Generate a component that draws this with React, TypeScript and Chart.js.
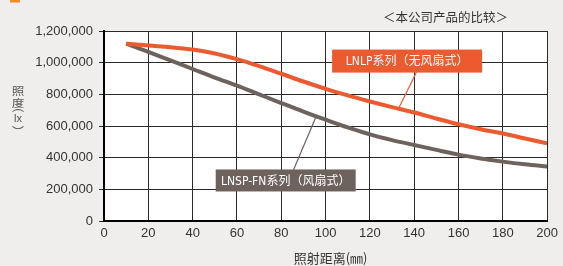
import React, { useEffect, useRef } from "react";
import { Chart, registerables } from "chart.js";

Chart.register(...registerables);

const distances = [10, 20, 30, 40, 50, 60, 70, 80, 90, 100, 110, 120, 130, 140, 150, 160, 170, 180, 190, 200];
const lnlpValues = [1120000, 1108000, 1097000, 1083000, 1058000, 1022000, 978000, 930000, 881000, 835000, 793000, 755000, 719000, 685000, 647000, 611000, 580000, 553000, 521000, 490000];
const lnspValues = [1120000, 1068000, 1014000, 960000, 906000, 855000, 800000, 745000, 691000, 640000, 591000, 547000, 511000, 480000, 449000, 419000, 395000, 375000, 358000, 344000];

const lnlpLabel = "LNLP系列（无风扇式）";
const lnspLabel = "LNSP-FN系列（风扇式）";
const xTitle = "照射距离(㎜)";
const yTitleChars = ["照", "度", "︵", "lx", "︶"];
const noteText = "＜本公司产品的比较＞";

const ORANGE = "#ec5a2f";
const GRAY = "#6d625c";
const TEXT = "#333333";

const annotations = [
  { text: lnlpLabel, cx: 136.8, cy: 1010000, w: 150, h: 23, bg: ORANGE, sx: 141, sy: 940000, tx: 133, ty: 712000 },
  { text: lnspLabel, cx: 82, cy: 256000, w: 140, h: 22, bg: GRAY, sx: 85.5, sy: 322000, tx: 95.5, ty: 652000 },
];

const decorPlugin = {
  id: "decor",
  beforeDraw(chart: any) {
    const { ctx, chartArea } = chart;
    ctx.save();
    ctx.fillStyle = "#efeeec";
    ctx.fillRect(0, 0, chart.width, chart.height);
    ctx.fillStyle = "#ffffff";
    ctx.fillRect(chartArea.left, chartArea.top, chartArea.right - chartArea.left, chartArea.bottom - chartArea.top);
    // cut-off header marker
    ctx.fillStyle = "#f08a24";
    ctx.fillRect(10, 0, 10, 2.5);
    ctx.restore();
  },
  afterDatasetsDraw(chart: any) {
    const { ctx, scales, chartArea } = chart;
    const xs = scales.x;
    const ys = scales.y;
    ctx.save();
    for (const a of annotations) {
      ctx.strokeStyle = a.bg;
      ctx.lineWidth = 1.2;
      ctx.beginPath();
      ctx.moveTo(xs.getPixelForValue(a.sx), ys.getPixelForValue(a.sy));
      ctx.lineTo(xs.getPixelForValue(a.tx), ys.getPixelForValue(a.ty));
      ctx.stroke();
      const cx = xs.getPixelForValue(a.cx);
      const cy = ys.getPixelForValue(a.cy);
      ctx.fillStyle = a.bg;
      ctx.fillRect(cx - a.w / 2, cy - a.h / 2, a.w, a.h);
      ctx.fillStyle = "#ffffff";
      ctx.font = '12px "Liberation Sans Narrow", "DejaVu Sans Condensed", "Noto Sans CJK SC", sans-serif';
      ctx.textAlign = "center";
      ctx.textBaseline = "middle";
      ctx.fillText(a.text, cx, cy + 1);
    }
    // note top-right
    ctx.fillStyle = TEXT;
    ctx.font = '12.5px "Noto Sans CJK SC", sans-serif';
    ctx.textAlign = "right";
    ctx.textBaseline = "middle";
    ctx.fillText(noteText, 508, 17);
    // x title
    ctx.textAlign = "center";
    ctx.font = '13px "Noto Sans CJK SC", sans-serif';
    ctx.fillText(xTitle, (chartArea.left + chartArea.right) / 2 + 5, 258);
    // y title (vertical, stacked)
    ctx.fillStyle = "#555555";
    const ys1 = [91.5, 103, 106, 118.5, 132];
    yTitleChars.forEach((c, i) => {
      ctx.font = c === "lx"
        ? '11px "Liberation Sans", sans-serif'
        : i < 2 ? '11px "Noto Sans CJK SC", sans-serif' : '12px "Noto Sans CJK SC", sans-serif';
      ctx.save();
      ctx.translate(18, ys1[i]);
      if (i < 2) ctx.scale(1.15, 0.95);
      ctx.fillText(c, 0, 0);
      ctx.restore();
    });
    ctx.restore();
  },
};

export default function App() {
  const ref = useRef<HTMLCanvasElement>(null);
  useEffect(() => {
    const canvas = ref.current!;
    const chart = new Chart(canvas, {
      type: "line",
      data: {
        datasets: [
          {
            label: lnlpLabel,
            data: distances.map((d, i) => ({ x: d, y: lnlpValues[i] })),
            borderColor: ORANGE,
            borderWidth: 4,
            pointRadius: 0,
            cubicInterpolationMode: "monotone",
          },
          {
            label: lnspLabel,
            data: distances.map((d, i) => ({ x: d, y: lnspValues[i] })),
            borderColor: GRAY,
            borderWidth: 4,
            pointRadius: 0,
            cubicInterpolationMode: "monotone",
          },
        ],
      },
      options: {
        animation: false,
        responsive: false,
        devicePixelRatio: 1,
        layout: { padding: { top: 31, right: 12, left: 0, bottom: 0 } },
        plugins: { legend: { display: false }, tooltip: { enabled: false } },
        scales: {
          x: {
            type: "linear",
            min: 0,
            max: 200,
            afterFit: (s: any) => { s.height = 45; },
            ticks: { stepSize: 20, color: TEXT, font: { family: '"Liberation Sans", Arial, sans-serif', size: 13 }, padding: 5, maxRotation: 0 },
            grid: { color: "#2a2a2a", lineWidth: 1, drawTicks: false },
            border: { color: "#000", width: 2 },
          },
          y: {
            min: 0,
            max: 1200000,
            afterFit: (s: any) => { s.width = 104; },
            ticks: {
              stepSize: 200000,
              color: TEXT,
              font: { family: '"Liberation Sans", Arial, sans-serif', size: 13 },
              padding: 6,
              callback: (v: any) => Number(v).toLocaleString("en-US"),
            },
            grid: { color: "#2a2a2a", lineWidth: 1, tickLength: 5 },
            border: { color: "#000", width: 2 },
          },
        },
      },
      plugins: [decorPlugin],
    } as any);
    return () => chart.destroy();
  }, []);
  return (
    <div style={{ position: "fixed", left: 0, top: 0, width: 563, height: 266, background: "#efeeec" }}>
      <canvas ref={ref} width={563} height={266} style={{ width: 563, height: 266, display: "block" }} />
    </div>
  );
}
